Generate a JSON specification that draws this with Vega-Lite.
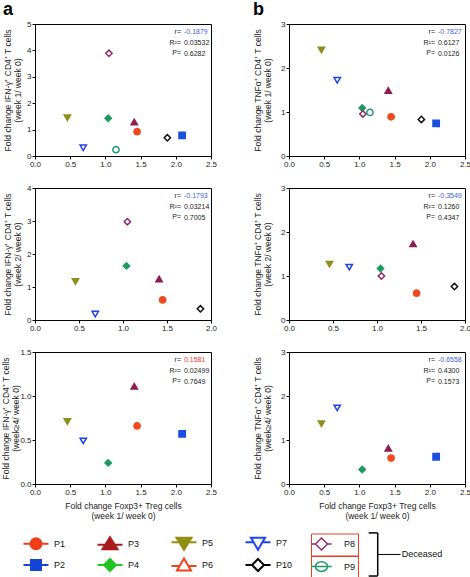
{
  "$schema": "https://vega.github.io/schema/vega-lite/v6.json",
  "autosize": {"type": "pad"},
  "padding": {"left": 0, "top": 0, "right": 0, "bottom": 0},
  "background": "white",
  "datasets": {
    "a1": [
      {"p": "P1", "x": 1.45, "y": 0.92}, {"p": "P2", "x": 2.09, "y": 0.78}, {"p": "P3", "x": 1.41, "y": 1.29},
      {"p": "P4", "x": 1.04, "y": 1.43}, {"p": "P5", "x": 0.46, "y": 1.45}, {"p": "P7", "x": 0.685, "y": 0.31},
      {"p": "P8", "x": 1.05, "y": 3.89}, {"p": "P9", "x": 1.15, "y": 0.24}, {"p": "P10", "x": 1.88, "y": 0.69}
    ],
    "b1": [
      {"p": "P1", "x": 1.45, "y": 0.89}, {"p": "P2", "x": 2.09, "y": 0.74}, {"p": "P3", "x": 1.41, "y": 1.49},
      {"p": "P4", "x": 1.04, "y": 1.09}, {"p": "P5", "x": 0.46, "y": 2.41}, {"p": "P7", "x": 0.685, "y": 1.72},
      {"p": "P8", "x": 1.05, "y": 0.955}, {"p": "P9", "x": 1.15, "y": 0.99}, {"p": "P10", "x": 1.88, "y": 0.83}
    ],
    "a2": [
      {"p": "P1", "x": 1.45, "y": 0.61}, {"p": "P3", "x": 1.41, "y": 1.24}, {"p": "P4", "x": 1.04, "y": 1.64},
      {"p": "P5", "x": 0.46, "y": 1.17}, {"p": "P7", "x": 0.685, "y": 0.18}, {"p": "P8", "x": 1.05, "y": 2.98},
      {"p": "P10", "x": 1.88, "y": 0.34}
    ],
    "b2": [
      {"p": "P1", "x": 1.45, "y": 0.61}, {"p": "P3", "x": 1.41, "y": 1.73}, {"p": "P4", "x": 1.04, "y": 1.17},
      {"p": "P5", "x": 0.46, "y": 1.27}, {"p": "P7", "x": 0.685, "y": 1.2}, {"p": "P8", "x": 1.05, "y": 1.0},
      {"p": "P10", "x": 1.88, "y": 0.76}
    ],
    "a3": [
      {"p": "P1", "x": 1.45, "y": 0.66}, {"p": "P2", "x": 2.09, "y": 0.57}, {"p": "P3", "x": 1.41, "y": 1.11},
      {"p": "P4", "x": 1.04, "y": 0.24}, {"p": "P5", "x": 0.46, "y": 0.71}, {"p": "P7", "x": 0.685, "y": 0.49}
    ],
    "b3": [
      {"p": "P1", "x": 1.45, "y": 0.59}, {"p": "P2", "x": 2.09, "y": 0.62}, {"p": "P3", "x": 1.41, "y": 0.81},
      {"p": "P4", "x": 1.04, "y": 0.33}, {"p": "P5", "x": 0.46, "y": 1.37}, {"p": "P7", "x": 0.685, "y": 1.73}
    ],
    "legendMain": [
      {"p": "P1"}, {"p": "P2"}, {"p": "P3"}, {"p": "P4"}, {"p": "P5"}, {"p": "P6"}, {"p": "P7"}, {"p": "P10"}
    ],
    "legendP8": [{"p": "P8"}],
    "legendP9": [{"p": "P9"}]
  },
  "resolve": {"scale": {"shape": "independent", "fill": "independent", "stroke": "independent"}},
  "spacing": 7,
  "vconcat": [
    {
      "columns": 2,
      "spacing": {"row": 14, "column": 34},
      "concat": [
        {
          "width": 176, "height": 132,
          "title": {"text": "a", "anchor": "start", "frame": "bounds", "fontSize": 18, "fontWeight": "bold", "color": "#000", "offset": 1},
          "layer": [
            {
              "data": {"name": "a1"},
              "mark": {"type": "point", "filled": true, "size": 40, "strokeWidth": 1.5, "opacity": 1},
              "encoding": {
                "x": {"field": "x", "type": "quantitative", "scale": {"domain": [0, 2.5], "nice": false}, "axis": {"values": [0, 0.5, 1, 1.5, 2, 2.5], "format": ".1f", "title": null}},
                "y": {"field": "y", "type": "quantitative", "scale": {"domain": [0, 5], "nice": false}, "axis": {"values": [0, 1, 2, 3, 4, 5], "format": "d", "titlePadding": 4, "title": ["Fold change IFN-γ⁺ CD4⁺ T cells", "(week 1/ week 0)"]}},
                "shape": {"field": "p", "type": "nominal", "legend": null, "scale": {"domain": ["P1","P2","P3","P4","P5","P6","P7","P8","P9","P10"], "range": ["circle","square","triangle-up","diamond","triangle-down","triangle-up","triangle-down","diamond","circle","diamond"]}},
                "fill": {"field": "p", "type": "nominal", "legend": null, "scale": {"domain": ["P1","P2","P3","P4","P5","P6","P7","P8","P9","P10"], "range": ["#f04a1e","#1a4fe0","#8c1e52","#1f9a5e","#8e8e1a","#ffffff","#ffffff","#ffffff","#ffffff","#ffffff"]}},
                "stroke": {"field": "p", "type": "nominal", "legend": null, "scale": {"domain": ["P1","P2","P3","P4","P5","P6","P7","P8","P9","P10"], "range": ["#f04a1e","#1a4fe0","#8c1e52","#1f9a5e","#8e8e1a","#f04a1e","#2040e8","#8e2a6a","#1e9a74","#111111"]}}
              }
            },
            {"data": {"values": [{}]}, "mark": {"type": "text", "align": "right", "baseline": "top", "fontSize": 7, "lineHeight": 10.5, "color": "#222"},
             "encoding": {
               "x": {"datum": 2.074, "type": "quantitative", "axis": {"values": [0, 0.5, 1, 1.5, 2, 2.5], "format": ".1f", "title": null}},
               "y": {"datum": 4.83, "type": "quantitative", "axis": {"values": [0, 1, 2, 3, 4, 5], "format": "d", "titlePadding": 4, "title": ["Fold change IFN-γ⁺ CD4⁺ T cells", "(week 1/ week 0)"]}},
               "text": {"value": ["r=", "R²=", "P="]}}},
            {"data": {"values": [{}]}, "mark": {"type": "text", "align": "left", "baseline": "top", "fontSize": 7, "color": "#3d5fe0"},
             "encoding": {
               "x": {"datum": 2.116, "type": "quantitative", "axis": {"values": [0, 0.5, 1, 1.5, 2, 2.5], "format": ".1f", "title": null}},
               "y": {"datum": 4.83, "type": "quantitative", "axis": {"values": [0, 1, 2, 3, 4, 5], "format": "d", "titlePadding": 4, "title": ["Fold change IFN-γ⁺ CD4⁺ T cells", "(week 1/ week 0)"]}},
               "text": {"value": "-0.1879"}}},
            {"data": {"values": [{}]}, "mark": {"type": "text", "align": "left", "baseline": "top", "fontSize": 7, "lineHeight": 10.5, "color": "#222"},
             "encoding": {
               "x": {"datum": 2.116, "type": "quantitative", "axis": {"values": [0, 0.5, 1, 1.5, 2, 2.5], "format": ".1f", "title": null}},
               "y": {"datum": 4.43, "type": "quantitative", "axis": {"values": [0, 1, 2, 3, 4, 5], "format": "d", "titlePadding": 4, "title": ["Fold change IFN-γ⁺ CD4⁺ T cells", "(week 1/ week 0)"]}},
               "text": {"value": ["0.03532", "0.6282"]}}}
          ]
        },
        {
          "width": 176, "height": 132,
          "title": {"text": "b", "anchor": "start", "frame": "bounds", "fontSize": 18, "fontWeight": "bold", "color": "#000", "offset": 1},
          "layer": [
            {
              "data": {"name": "b1"},
              "mark": {"type": "point", "filled": true, "size": 40, "strokeWidth": 1.5, "opacity": 1},
              "encoding": {
                "x": {"field": "x", "type": "quantitative", "scale": {"domain": [0, 2.5], "nice": false}, "axis": {"values": [0, 0.5, 1, 1.5, 2, 2.5], "format": ".1f", "title": null}},
                "y": {"field": "y", "type": "quantitative", "scale": {"domain": [0, 3], "nice": false}, "axis": {"values": [0, 1, 2, 3], "format": "d", "titlePadding": 8, "title": ["Fold change TNFα⁺ CD4⁺ T cells", "(week 1/ week 0)"]}},
                "shape": {"field": "p", "type": "nominal", "legend": null, "scale": {"domain": ["P1","P2","P3","P4","P5","P6","P7","P8","P9","P10"], "range": ["circle","square","triangle-up","diamond","triangle-down","triangle-up","triangle-down","diamond","circle","diamond"]}},
                "fill": {"field": "p", "type": "nominal", "legend": null, "scale": {"domain": ["P1","P2","P3","P4","P5","P6","P7","P8","P9","P10"], "range": ["#f04a1e","#1a4fe0","#8c1e52","#1f9a5e","#8e8e1a","#ffffff","#ffffff","#ffffff","#ffffff","#ffffff"]}},
                "stroke": {"field": "p", "type": "nominal", "legend": null, "scale": {"domain": ["P1","P2","P3","P4","P5","P6","P7","P8","P9","P10"], "range": ["#f04a1e","#1a4fe0","#8c1e52","#1f9a5e","#8e8e1a","#f04a1e","#2040e8","#8e2a6a","#1e9a74","#111111"]}}
              }
            },
            {"data": {"values": [{}]}, "mark": {"type": "text", "align": "right", "baseline": "top", "fontSize": 7, "lineHeight": 10.5, "color": "#222"},
             "encoding": {
               "x": {"datum": 2.074, "type": "quantitative", "axis": {"values": [0, 0.5, 1, 1.5, 2, 2.5], "format": ".1f", "title": null}},
               "y": {"datum": 2.898, "type": "quantitative", "axis": {"values": [0, 1, 2, 3], "format": "d", "titlePadding": 8, "title": ["Fold change TNFα⁺ CD4⁺ T cells", "(week 1/ week 0)"]}},
               "text": {"value": ["r=", "R²=", "P="]}}},
            {"data": {"values": [{}]}, "mark": {"type": "text", "align": "left", "baseline": "top", "fontSize": 7, "color": "#3d5fe0"},
             "encoding": {
               "x": {"datum": 2.116, "type": "quantitative", "axis": {"values": [0, 0.5, 1, 1.5, 2, 2.5], "format": ".1f", "title": null}},
               "y": {"datum": 2.898, "type": "quantitative", "axis": {"values": [0, 1, 2, 3], "format": "d", "titlePadding": 8, "title": ["Fold change TNFα⁺ CD4⁺ T cells", "(week 1/ week 0)"]}},
               "text": {"value": "-0.7827"}}},
            {"data": {"values": [{}]}, "mark": {"type": "text", "align": "left", "baseline": "top", "fontSize": 7, "lineHeight": 10.5, "color": "#222"},
             "encoding": {
               "x": {"datum": 2.116, "type": "quantitative", "axis": {"values": [0, 0.5, 1, 1.5, 2, 2.5], "format": ".1f", "title": null}},
               "y": {"datum": 2.659, "type": "quantitative", "axis": {"values": [0, 1, 2, 3], "format": "d", "titlePadding": 8, "title": ["Fold change TNFα⁺ CD4⁺ T cells", "(week 1/ week 0)"]}},
               "text": {"value": ["0.6127", "0.0126"]}}}
          ]
        },
        {
          "width": 176, "height": 132,
          "layer": [
            {
              "data": {"name": "a2"},
              "mark": {"type": "point", "filled": true, "size": 40, "strokeWidth": 1.5, "opacity": 1},
              "encoding": {
                "x": {"field": "x", "type": "quantitative", "scale": {"domain": [0, 2], "nice": false}, "axis": {"values": [0, 0.5, 1, 1.5, 2], "format": ".1f", "title": null}},
                "y": {"field": "y", "type": "quantitative", "scale": {"domain": [0, 4], "nice": false}, "axis": {"values": [0, 1, 2, 3, 4], "format": "d", "titlePadding": 4, "title": ["Fold change IFN-γ⁺ CD4⁺ T cells", "(week 2/ week 0)"]}},
                "shape": {"field": "p", "type": "nominal", "legend": null, "scale": {"domain": ["P1","P2","P3","P4","P5","P6","P7","P8","P9","P10"], "range": ["circle","square","triangle-up","diamond","triangle-down","triangle-up","triangle-down","diamond","circle","diamond"]}},
                "fill": {"field": "p", "type": "nominal", "legend": null, "scale": {"domain": ["P1","P2","P3","P4","P5","P6","P7","P8","P9","P10"], "range": ["#f04a1e","#1a4fe0","#8c1e52","#1f9a5e","#8e8e1a","#ffffff","#ffffff","#ffffff","#ffffff","#ffffff"]}},
                "stroke": {"field": "p", "type": "nominal", "legend": null, "scale": {"domain": ["P1","P2","P3","P4","P5","P6","P7","P8","P9","P10"], "range": ["#f04a1e","#1a4fe0","#8c1e52","#1f9a5e","#8e8e1a","#f04a1e","#2040e8","#8e2a6a","#1e9a74","#111111"]}}
              }
            },
            {"data": {"values": [{}]}, "mark": {"type": "text", "align": "right", "baseline": "top", "fontSize": 7, "lineHeight": 10.5, "color": "#222"},
             "encoding": {
               "x": {"datum": 1.659, "type": "quantitative", "axis": {"values": [0, 0.5, 1, 1.5, 2], "format": ".1f", "title": null}},
               "y": {"datum": 3.864, "type": "quantitative", "axis": {"values": [0, 1, 2, 3, 4], "format": "d", "titlePadding": 4, "title": ["Fold change IFN-γ⁺ CD4⁺ T cells", "(week 2/ week 0)"]}},
               "text": {"value": ["r=", "R²=", "P="]}}},
            {"data": {"values": [{}]}, "mark": {"type": "text", "align": "left", "baseline": "top", "fontSize": 7, "color": "#3d5fe0"},
             "encoding": {
               "x": {"datum": 1.693, "type": "quantitative", "axis": {"values": [0, 0.5, 1, 1.5, 2], "format": ".1f", "title": null}},
               "y": {"datum": 3.864, "type": "quantitative", "axis": {"values": [0, 1, 2, 3, 4], "format": "d", "titlePadding": 4, "title": ["Fold change IFN-γ⁺ CD4⁺ T cells", "(week 2/ week 0)"]}},
               "text": {"value": "-0.1793"}}},
            {"data": {"values": [{}]}, "mark": {"type": "text", "align": "left", "baseline": "top", "fontSize": 7, "lineHeight": 10.5, "color": "#222"},
             "encoding": {
               "x": {"datum": 1.693, "type": "quantitative", "axis": {"values": [0, 0.5, 1, 1.5, 2], "format": ".1f", "title": null}},
               "y": {"datum": 3.545, "type": "quantitative", "axis": {"values": [0, 1, 2, 3, 4], "format": "d", "titlePadding": 4, "title": ["Fold change IFN-γ⁺ CD4⁺ T cells", "(week 2/ week 0)"]}},
               "text": {"value": ["0.03214", "0.7005"]}}}
          ]
        },
        {
          "width": 176, "height": 132,
          "layer": [
            {
              "data": {"name": "b2"},
              "mark": {"type": "point", "filled": true, "size": 40, "strokeWidth": 1.5, "opacity": 1},
              "encoding": {
                "x": {"field": "x", "type": "quantitative", "scale": {"domain": [0, 2], "nice": false}, "axis": {"values": [0, 0.5, 1, 1.5, 2], "format": ".1f", "title": null}},
                "y": {"field": "y", "type": "quantitative", "scale": {"domain": [0, 3], "nice": false}, "axis": {"values": [0, 1, 2, 3], "format": "d", "titlePadding": 8, "title": ["Fold change TNFα⁺ CD4⁺ T cells", "(week 2/ week 0)"]}},
                "shape": {"field": "p", "type": "nominal", "legend": null, "scale": {"domain": ["P1","P2","P3","P4","P5","P6","P7","P8","P9","P10"], "range": ["circle","square","triangle-up","diamond","triangle-down","triangle-up","triangle-down","diamond","circle","diamond"]}},
                "fill": {"field": "p", "type": "nominal", "legend": null, "scale": {"domain": ["P1","P2","P3","P4","P5","P6","P7","P8","P9","P10"], "range": ["#f04a1e","#1a4fe0","#8c1e52","#1f9a5e","#8e8e1a","#ffffff","#ffffff","#ffffff","#ffffff","#ffffff"]}},
                "stroke": {"field": "p", "type": "nominal", "legend": null, "scale": {"domain": ["P1","P2","P3","P4","P5","P6","P7","P8","P9","P10"], "range": ["#f04a1e","#1a4fe0","#8c1e52","#1f9a5e","#8e8e1a","#f04a1e","#2040e8","#8e2a6a","#1e9a74","#111111"]}}
              }
            },
            {"data": {"values": [{}]}, "mark": {"type": "text", "align": "right", "baseline": "top", "fontSize": 7, "lineHeight": 10.5, "color": "#222"},
             "encoding": {
               "x": {"datum": 1.659, "type": "quantitative", "axis": {"values": [0, 0.5, 1, 1.5, 2], "format": ".1f", "title": null}},
               "y": {"datum": 2.898, "type": "quantitative", "axis": {"values": [0, 1, 2, 3], "format": "d", "titlePadding": 8, "title": ["Fold change TNFα⁺ CD4⁺ T cells", "(week 2/ week 0)"]}},
               "text": {"value": ["r=", "R²=", "P="]}}},
            {"data": {"values": [{}]}, "mark": {"type": "text", "align": "left", "baseline": "top", "fontSize": 7, "color": "#3d5fe0"},
             "encoding": {
               "x": {"datum": 1.693, "type": "quantitative", "axis": {"values": [0, 0.5, 1, 1.5, 2], "format": ".1f", "title": null}},
               "y": {"datum": 2.898, "type": "quantitative", "axis": {"values": [0, 1, 2, 3], "format": "d", "titlePadding": 8, "title": ["Fold change TNFα⁺ CD4⁺ T cells", "(week 2/ week 0)"]}},
               "text": {"value": "-0.3549"}}},
            {"data": {"values": [{}]}, "mark": {"type": "text", "align": "left", "baseline": "top", "fontSize": 7, "lineHeight": 10.5, "color": "#222"},
             "encoding": {
               "x": {"datum": 1.693, "type": "quantitative", "axis": {"values": [0, 0.5, 1, 1.5, 2], "format": ".1f", "title": null}},
               "y": {"datum": 2.659, "type": "quantitative", "axis": {"values": [0, 1, 2, 3], "format": "d", "titlePadding": 8, "title": ["Fold change TNFα⁺ CD4⁺ T cells", "(week 2/ week 0)"]}},
               "text": {"value": ["0.1260", "0.4347"]}}}
          ]
        },
        {
          "width": 176, "height": 132,
          "layer": [
            {
              "data": {"name": "a3"},
              "mark": {"type": "point", "filled": true, "size": 40, "strokeWidth": 1.5, "opacity": 1},
              "encoding": {
                "x": {"field": "x", "type": "quantitative", "scale": {"domain": [0, 2.5], "nice": false}, "axis": {"values": [0, 0.5, 1, 1.5, 2, 2.5], "format": ".1f", "title": ["Fold change Foxp3+ Treg cells", "(week 1/ week 0)"]}},
                "y": {"field": "y", "type": "quantitative", "scale": {"domain": [0, 1.5], "nice": false}, "axis": {"values": [0, 0.5, 1, 1.5], "format": ".1f", "titlePadding": -1, "title": ["Fold change IFN-γ⁺ CD4⁺ T cells", "(week≥4/ week 0)"]}},
                "shape": {"field": "p", "type": "nominal", "legend": null, "scale": {"domain": ["P1","P2","P3","P4","P5","P6","P7","P8","P9","P10"], "range": ["circle","square","triangle-up","diamond","triangle-down","triangle-up","triangle-down","diamond","circle","diamond"]}},
                "fill": {"field": "p", "type": "nominal", "legend": null, "scale": {"domain": ["P1","P2","P3","P4","P5","P6","P7","P8","P9","P10"], "range": ["#f04a1e","#1a4fe0","#8c1e52","#1f9a5e","#8e8e1a","#ffffff","#ffffff","#ffffff","#ffffff","#ffffff"]}},
                "stroke": {"field": "p", "type": "nominal", "legend": null, "scale": {"domain": ["P1","P2","P3","P4","P5","P6","P7","P8","P9","P10"], "range": ["#f04a1e","#1a4fe0","#8c1e52","#1f9a5e","#8e8e1a","#f04a1e","#2040e8","#8e2a6a","#1e9a74","#111111"]}}
              }
            },
            {"data": {"values": [{}]}, "mark": {"type": "text", "align": "right", "baseline": "top", "fontSize": 7, "lineHeight": 10.5, "color": "#222"},
             "encoding": {
               "x": {"datum": 2.074, "type": "quantitative", "axis": {"values": [0, 0.5, 1, 1.5, 2, 2.5], "format": ".1f", "title": ["Fold change Foxp3+ Treg cells", "(week 1/ week 0)"]}},
               "y": {"datum": 1.449, "type": "quantitative", "axis": {"values": [0, 0.5, 1, 1.5], "format": ".1f", "titlePadding": -1, "title": ["Fold change IFN-γ⁺ CD4⁺ T cells", "(week≥4/ week 0)"]}},
               "text": {"value": ["r=", "R²=", "P="]}}},
            {"data": {"values": [{}]}, "mark": {"type": "text", "align": "left", "baseline": "top", "fontSize": 7, "color": "#f0402a"},
             "encoding": {
               "x": {"datum": 2.116, "type": "quantitative", "axis": {"values": [0, 0.5, 1, 1.5, 2, 2.5], "format": ".1f", "title": ["Fold change Foxp3+ Treg cells", "(week 1/ week 0)"]}},
               "y": {"datum": 1.449, "type": "quantitative", "axis": {"values": [0, 0.5, 1, 1.5], "format": ".1f", "titlePadding": -1, "title": ["Fold change IFN-γ⁺ CD4⁺ T cells", "(week≥4/ week 0)"]}},
               "text": {"value": "0.1581"}}},
            {"data": {"values": [{}]}, "mark": {"type": "text", "align": "left", "baseline": "top", "fontSize": 7, "lineHeight": 10.5, "color": "#222"},
             "encoding": {
               "x": {"datum": 2.116, "type": "quantitative", "axis": {"values": [0, 0.5, 1, 1.5, 2, 2.5], "format": ".1f", "title": ["Fold change Foxp3+ Treg cells", "(week 1/ week 0)"]}},
               "y": {"datum": 1.329, "type": "quantitative", "axis": {"values": [0, 0.5, 1, 1.5], "format": ".1f", "titlePadding": -1, "title": ["Fold change IFN-γ⁺ CD4⁺ T cells", "(week≥4/ week 0)"]}},
               "text": {"value": ["0.02499", "0.7649"]}}}
          ]
        },
        {
          "width": 176, "height": 132,
          "layer": [
            {
              "data": {"name": "b3"},
              "mark": {"type": "point", "filled": true, "size": 40, "strokeWidth": 1.5, "opacity": 1},
              "encoding": {
                "x": {"field": "x", "type": "quantitative", "scale": {"domain": [0, 2.5], "nice": false}, "axis": {"values": [0, 0.5, 1, 1.5, 2, 2.5], "format": ".1f", "title": ["Fold change Foxp3+ Treg cells", "(week 1/ week 0)"]}},
                "y": {"field": "y", "type": "quantitative", "scale": {"domain": [0, 3], "nice": false}, "axis": {"values": [0, 1, 2, 3], "format": "d", "titlePadding": 8, "title": ["Fold change TNFα⁺ CD4⁺ T cells", "(week≥4/ week 0)"]}},
                "shape": {"field": "p", "type": "nominal", "legend": null, "scale": {"domain": ["P1","P2","P3","P4","P5","P6","P7","P8","P9","P10"], "range": ["circle","square","triangle-up","diamond","triangle-down","triangle-up","triangle-down","diamond","circle","diamond"]}},
                "fill": {"field": "p", "type": "nominal", "legend": null, "scale": {"domain": ["P1","P2","P3","P4","P5","P6","P7","P8","P9","P10"], "range": ["#f04a1e","#1a4fe0","#8c1e52","#1f9a5e","#8e8e1a","#ffffff","#ffffff","#ffffff","#ffffff","#ffffff"]}},
                "stroke": {"field": "p", "type": "nominal", "legend": null, "scale": {"domain": ["P1","P2","P3","P4","P5","P6","P7","P8","P9","P10"], "range": ["#f04a1e","#1a4fe0","#8c1e52","#1f9a5e","#8e8e1a","#f04a1e","#2040e8","#8e2a6a","#1e9a74","#111111"]}}
              }
            },
            {"data": {"values": [{}]}, "mark": {"type": "text", "align": "right", "baseline": "top", "fontSize": 7, "lineHeight": 10.5, "color": "#222"},
             "encoding": {
               "x": {"datum": 2.074, "type": "quantitative", "axis": {"values": [0, 0.5, 1, 1.5, 2, 2.5], "format": ".1f", "title": ["Fold change Foxp3+ Treg cells", "(week 1/ week 0)"]}},
               "y": {"datum": 2.898, "type": "quantitative", "axis": {"values": [0, 1, 2, 3], "format": "d", "titlePadding": 8, "title": ["Fold change TNFα⁺ CD4⁺ T cells", "(week≥4/ week 0)"]}},
               "text": {"value": ["r=", "R²=", "P="]}}},
            {"data": {"values": [{}]}, "mark": {"type": "text", "align": "left", "baseline": "top", "fontSize": 7, "color": "#3d5fe0"},
             "encoding": {
               "x": {"datum": 2.116, "type": "quantitative", "axis": {"values": [0, 0.5, 1, 1.5, 2, 2.5], "format": ".1f", "title": ["Fold change Foxp3+ Treg cells", "(week 1/ week 0)"]}},
               "y": {"datum": 2.898, "type": "quantitative", "axis": {"values": [0, 1, 2, 3], "format": "d", "titlePadding": 8, "title": ["Fold change TNFα⁺ CD4⁺ T cells", "(week≥4/ week 0)"]}},
               "text": {"value": "-0.6558"}}},
            {"data": {"values": [{}]}, "mark": {"type": "text", "align": "left", "baseline": "top", "fontSize": 7, "lineHeight": 10.5, "color": "#222"},
             "encoding": {
               "x": {"datum": 2.116, "type": "quantitative", "axis": {"values": [0, 0.5, 1, 1.5, 2, 2.5], "format": ".1f", "title": ["Fold change Foxp3+ Treg cells", "(week 1/ week 0)"]}},
               "y": {"datum": 2.659, "type": "quantitative", "axis": {"values": [0, 1, 2, 3], "format": "d", "titlePadding": 8, "title": ["Fold change TNFα⁺ CD4⁺ T cells", "(week≥4/ week 0)"]}},
               "text": {"value": ["0.4300", "0.1573"]}}}
          ]
        }
      ]
    },
    {
      "width": 430, "height": 49,
      "view": {"stroke": null},
      "resolve": {"scale": {"shape": "independent", "fill": "independent", "stroke": "independent"}},
      "layer": [
        {
          "data": {"name": "legendMain"},
          "mark": {"type": "point", "filled": true, "opacity": 0, "strokeWidth": 2},
          "encoding": {
            "shape": {"field": "p", "type": "nominal",
              "scale": {"domain": ["P1","P2","P3","P4","P5","P6","P7","P10"],
                "range": [
                  "M-1.25,0H-0.55M0.55,0H1.25M-0.55,0A0.55,0.55 0 1,1 0.55,0A0.55,0.55 0 1,1 -0.55,0Z",
                  "M-1.25,0H-0.5M0.5,0H1.25M-0.5,-0.5H0.5V0.5H-0.5Z",
                  "M-1.25,0.1H1.25M0,-0.65L0.75,0.55H-0.75Z",
                  "M-1.25,0H1.25M0,-0.6L0.6,0L0,0.6L-0.6,0Z",
                  "M-1.25,-0.1H1.25M-0.75,-0.55H0.75L0,0.65Z",
                  "M-1.25,0.1H-0.44M0.44,0.1H1.25M0,-0.65L0.7,0.55H-0.7Z",
                  "M-1.25,-0.1H-0.44M0.44,-0.1H1.25M-0.7,-0.55H0.7L0,0.65Z",
                  "M-1.25,0H-0.6M0.6,0H1.25M0,-0.6L0.6,0L0,0.6L-0.6,0Z"
                ]},
              "legend": {"title": null, "orient": "none", "legendX": -10, "legendY": 4, "padding": 0, "columns": 4, "gridAlign": "all", "columnPadding": 22, "rowPadding": 0, "symbolSize": 400, "symbolStrokeWidth": 2, "symbolOpacity": 1, "labelOffset": 7, "labelFontSize": 9}},
            "fill": {"field": "p", "type": "nominal",
              "scale": {"domain": ["P1","P2","P3","P4","P5","P6","P7","P10"], "range": ["#f23c1a","#1545d6","#a81c1c","#22c322","#8f8f14","#ffffff","#ffffff","#ffffff"]},
              "legend": {"title": null, "orient": "none", "legendX": -10, "legendY": 4, "padding": 0, "columns": 4, "gridAlign": "all", "columnPadding": 22, "rowPadding": 0, "symbolSize": 400, "symbolStrokeWidth": 2, "symbolOpacity": 1, "labelOffset": 7, "labelFontSize": 9}},
            "stroke": {"field": "p", "type": "nominal",
              "scale": {"domain": ["P1","P2","P3","P4","P5","P6","P7","P10"], "range": ["#f23c1a","#1545d6","#a81c1c","#22c322","#8f8f14","#f0401e","#1c46f0","#000000"]},
              "legend": {"title": null, "orient": "none", "legendX": -10, "legendY": 4, "padding": 0, "columns": 4, "gridAlign": "all", "columnPadding": 22, "rowPadding": 0, "symbolSize": 400, "symbolStrokeWidth": 2, "symbolOpacity": 1, "labelOffset": 7, "labelFontSize": 9}}
          }
        },
        {
          "data": {"name": "legendP8"},
          "mark": {"type": "point", "filled": true, "opacity": 0, "strokeWidth": 1.5},
          "encoding": {
            "shape": {"field": "p", "type": "nominal", "scale": {"domain": ["P8"], "range": ["M-1.35,0H-0.8M0.8,0H1.35M0,-0.8L0.8,0L0,0.8L-0.8,0Z"]},
              "legend": {"title": null, "orient": "none", "legendX": 276, "legendY": 5.5, "padding": 2, "strokeColor": "#e8401e", "symbolSize": 225, "symbolStrokeWidth": 1.5, "symbolOpacity": 1, "labelOffset": 14, "labelFontSize": 9}},
            "fill": {"field": "p", "type": "nominal", "scale": {"domain": ["P8"], "range": ["#ffffff"]},
              "legend": {"title": null, "orient": "none", "legendX": 276, "legendY": 5.5, "padding": 2, "strokeColor": "#e8401e", "symbolSize": 225, "symbolStrokeWidth": 1.5, "symbolOpacity": 1, "labelOffset": 14, "labelFontSize": 9}},
            "stroke": {"field": "p", "type": "nominal", "scale": {"domain": ["P8"], "range": ["#8e2a6e"]},
              "legend": {"title": null, "orient": "none", "legendX": 276, "legendY": 5.5, "padding": 2, "strokeColor": "#e8401e", "symbolSize": 225, "symbolStrokeWidth": 1.5, "symbolOpacity": 1, "labelOffset": 14, "labelFontSize": 9}}
          }
        },
        {
          "data": {"name": "legendP9"},
          "mark": {"type": "point", "filled": true, "opacity": 0, "strokeWidth": 1.5},
          "encoding": {
            "shape": {"field": "p", "type": "nominal", "scale": {"domain": ["P9"], "range": ["M-1.35,0H1.35M-0.8,0A0.8,0.65 0 1,1 0.8,0A0.8,0.65 0 1,1 -0.8,0Z"]},
              "legend": {"title": null, "orient": "none", "legendX": 276, "legendY": 28, "padding": 2, "strokeColor": "#e8401e", "symbolSize": 225, "symbolStrokeWidth": 1.5, "symbolOpacity": 1, "labelOffset": 14, "labelFontSize": 9}},
            "fill": {"field": "p", "type": "nominal", "scale": {"domain": ["P9"], "range": ["#ffffff"]},
              "legend": {"title": null, "orient": "none", "legendX": 276, "legendY": 28, "padding": 2, "strokeColor": "#e8401e", "symbolSize": 225, "symbolStrokeWidth": 1.5, "symbolOpacity": 1, "labelOffset": 14, "labelFontSize": 9}},
            "stroke": {"field": "p", "type": "nominal", "scale": {"domain": ["P9"], "range": ["#1e9a6a"]},
              "legend": {"title": null, "orient": "none", "legendX": 276, "legendY": 28, "padding": 2, "strokeColor": "#e8401e", "symbolSize": 225, "symbolStrokeWidth": 1.5, "symbolOpacity": 1, "labelOffset": 14, "labelFontSize": 9}}
          }
        },
        {
          "data": {"values": [{}]},
          "mark": {"type": "rule", "color": "#000", "strokeWidth": 1.5},
          "encoding": {
            "x": {"datum": 0.797, "type": "quantitative", "scale": {"domain": [0, 1], "nice": false}, "axis": null},
            "y": {"datum": 0.9, "type": "quantitative", "scale": {"domain": [0, 1], "nice": false}, "axis": null},
            "y2": {"datum": 0.02}
          }
        },
        {
          "data": {"values": [{}]},
          "mark": {"type": "rule", "color": "#000", "strokeWidth": 1.5},
          "encoding": {"x": {"datum": 0.776, "axis": null}, "x2": {"datum": 0.797}, "y": {"datum": 0.9, "axis": null}}
        },
        {
          "data": {"values": [{}]},
          "mark": {"type": "rule", "color": "#000", "strokeWidth": 1.5},
          "encoding": {"x": {"datum": 0.776, "axis": null}, "x2": {"datum": 0.797}, "y": {"datum": 0.02, "axis": null}}
        },
        {
          "data": {"values": [{}]},
          "mark": {"type": "rule", "color": "#000", "strokeWidth": 1},
          "encoding": {"x": {"datum": 0.797, "axis": null}, "x2": {"datum": 0.85}, "y": {"datum": 0.46, "axis": null}}
        },
        {
          "data": {"values": [{}]},
          "mark": {"type": "text", "align": "left", "baseline": "middle", "fontSize": 9, "color": "#111"},
          "encoding": {"x": {"datum": 0.853, "axis": null}, "y": {"datum": 0.46, "axis": null}, "text": {"value": "Deceased"}}
        }
      ]
    }
  ],
  "config": {
    "font": "Liberation Sans",
    "view": {"stroke": "#000", "strokeWidth": 1},
    "axis": {"domainColor": "#000", "tickColor": "#000", "tickSize": 3, "labelFontSize": 8, "labelColor": "#222", "labelPadding": 1, "labelFlush": false, "labelOverlap": false, "titleFontSize": 8.5, "titleFontWeight": "normal", "titleColor": "#222", "titleLineHeight": 10.5, "grid": false, "labelFont": "Liberation Sans", "titleFont": "Liberation Sans"},
    "axisX": {"titlePadding": 5},
    "legend": {"labelFont": "Liberation Sans", "labelFontSize": 9, "labelColor": "#111"}
  }
}
